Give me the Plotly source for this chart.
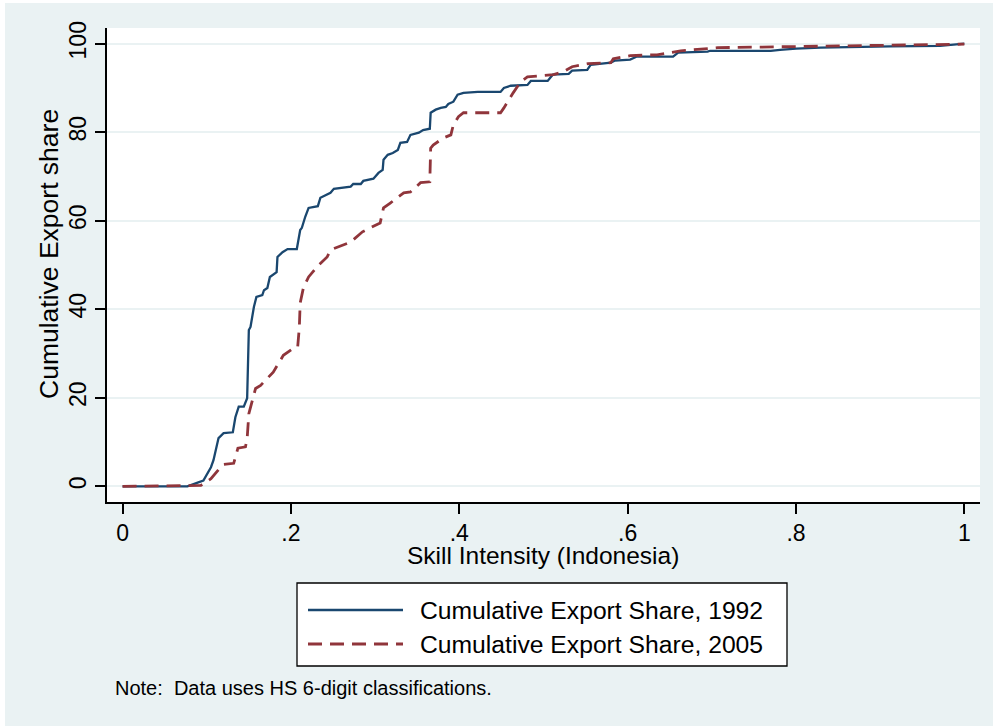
import plotly.graph_objects as go

# Cumulative export share by skill intensity, Indonesia
skill_1992 = [0, 0.077, 0.090, 0.096, 0.105, 0.108, 0.114, 0.120, 0.131, 0.134,
              0.138, 0.144, 0.148, 0.150, 0.152, 0.156, 0.159, 0.166, 0.168, 0.172,
              0.175, 0.183, 0.184, 0.190, 0.196, 0.207, 0.211, 0.213, 0.217, 0.221,
              0.232, 0.235, 0.247, 0.251, 0.271, 0.274, 0.283, 0.286, 0.298, 0.304,
              0.309, 0.310, 0.315, 0.321, 0.327, 0.330, 0.338, 0.342, 0.352, 0.357,
              0.365, 0.366, 0.372, 0.378, 0.384, 0.387, 0.393, 0.398, 0.405, 0.422,
              0.449, 0.453, 0.461, 0.481, 0.485, 0.505, 0.511, 0.530, 0.534, 0.552,
              0.556, 0.580, 0.585, 0.603, 0.611, 0.654, 0.660, 0.695, 0.698, 0.770,
              0.781, 0.800, 0.829, 0.867, 0.912, 0.971, 0.992, 1.0]
share_1992 = [0, 0, 0.9, 1.3, 4.3, 5.9, 10.9, 12, 12.2, 15.6,
              18, 18, 19.9, 35.3, 36, 40.5, 42.8, 43.2, 44.3, 44.8,
              47.3, 48.4, 51.8, 52.9, 53.6, 53.6, 57.9, 58.4, 60.9, 62.9,
              63.3, 65.2, 66.3, 67.2, 67.7, 68.3, 68.3, 69, 69.5, 70.8,
              71.5, 73.8, 74.9, 75.3, 76, 77.6, 77.8, 79.4, 79.9, 80.5,
              80.8, 84.4, 85.1, 85.5, 85.7, 86.4, 86.9, 88.5, 88.9, 89.1,
              89.1, 90, 90.5, 90.7, 91.6, 91.6, 93, 93.2, 93.9, 94.1,
              95.2, 95.7, 96.2, 96.4, 97.1, 97.1, 98, 98.2, 98.4, 98.4,
              98.6, 98.9, 99.1, 99.3, 99.4, 99.5, 99.8, 100]

skill_2005 = [0, 0.093, 0.105, 0.113, 0.119, 0.132, 0.137, 0.146, 0.148, 0.150,
              0.154, 0.158, 0.164, 0.173, 0.179, 0.191, 0.203, 0.208, 0.210, 0.211,
              0.215, 0.221, 0.233, 0.243, 0.247, 0.271, 0.285, 0.306, 0.310, 0.318,
              0.334, 0.342, 0.354, 0.365, 0.366, 0.369, 0.381, 0.390, 0.393, 0.399,
              0.405, 0.449, 0.453, 0.464, 0.473, 0.481, 0.496, 0.512, 0.524, 0.534,
              0.553, 0.580, 0.583, 0.603, 0.635, 0.663, 0.707, 0.785, 0.870, 0.990,
              1.0]
share_2005 = [0, 0.2, 1.7, 3.5, 4.9, 5.2, 8.6, 8.9, 10.8, 16.4,
              19.4, 22.1, 22.8, 24.7, 25.8, 29.6, 31.2, 31.4, 36, 41.4,
              45, 47.3, 50, 51.8, 53.4, 55.2, 57.5, 59.5, 62.9, 64,
              66.3, 66.5, 68.6, 68.8, 76.4, 77.1, 78.7, 79.4, 81.7, 83.5,
              84.4, 84.4, 85.5, 88.9, 91.4, 92.5, 92.8, 93, 93.7, 94.8,
              95.5, 95.7, 96.6, 97.3, 97.5, 98.4, 99.1, 99.3, 99.5, 99.8,
              99.9]

x_ticks = [0, 0.2, 0.4, 0.6, 0.8, 1]
x_tick_labels = ["0", ".2", ".4", ".6", ".8", "1"]
y_ticks = [0, 20, 40, 60, 80, 100]

series_names = ["Cumulative Export Share, 1992", "Cumulative Export Share, 2005"]

NAVY = "#1A476F"
MAROON = "#90353B"
BG = "#EAF2F3"
FONT = "Liberation Sans, Arial, sans-serif"

W, H = 993, 726
L, R, T, B = 107, 13, 28, 224
PW, PH = W - L - R, H - T - B


def px_x(p):
    return (p - L) / PW


def px_y(p):
    return (H - B - p) / PH


fig = go.Figure()
fig.add_trace(go.Scatter(x=skill_1992, y=share_1992, mode="lines",
                         line=dict(color=NAVY, width=2.3),
                         name=series_names[0], showlegend=False))
fig.add_trace(go.Scatter(x=skill_2005, y=share_2005, mode="lines",
                         line=dict(color=MAROON, width=2.8, dash="14px,8px"),
                         name=series_names[1], showlegend=False))

shapes = [
    # thin white border at the top and left edges of the canvas
    dict(type="rect", xref="paper", yref="paper", x0=px_x(-5), x1=px_x(W + 5),
         y0=px_y(3), y1=px_y(-5), fillcolor="white", line=dict(width=0), layer="above"),
    dict(type="rect", xref="paper", yref="paper", x0=px_x(-5), x1=px_x(5),
         y0=px_y(H + 5), y1=px_y(-5), fillcolor="white", line=dict(width=0), layer="above"),
    # legend box
    dict(type="rect", xref="paper", yref="paper", x0=px_x(297), x1=px_x(787),
         y0=px_y(666), y1=px_y(583), fillcolor="white",
         line=dict(color="black", width=1.3), layer="above"),
    dict(type="line", xref="paper", yref="paper", x0=px_x(308), x1=px_x(403),
         y0=px_y(610), y1=px_y(610), line=dict(color=NAVY, width=2.3), layer="above"),
    dict(type="line", xref="paper", yref="paper", x0=px_x(308), x1=px_x(403),
         y0=px_y(644), y1=px_y(644), line=dict(color=MAROON, width=2.8, dash="14px,8px"),
         layer="above"),
]

annotations = [
    dict(text=series_names[0], x=px_x(418), y=px_y(610), xref="paper", yref="paper",
         xanchor="left", yanchor="middle", showarrow=False,
         font=dict(family=FONT, size=24.7, color="black")),
    dict(text=series_names[1], x=px_x(418), y=px_y(644), xref="paper", yref="paper",
         xanchor="left", yanchor="middle", showarrow=False,
         font=dict(family=FONT, size=24.7, color="black")),
    dict(text="Skill Intensity (Indonesia)", x=px_x(543), y=px_y(555), xref="paper",
         yref="paper", xanchor="center", yanchor="middle", showarrow=False,
         font=dict(family=FONT, size=24.5, color="black")),
    dict(text="Cumulative Export share", x=px_x(49), y=px_y(254), xref="paper",
         yref="paper", xanchor="center", yanchor="middle", showarrow=False, textangle=-90,
         font=dict(family=FONT, size=26.5, color="black")),
    dict(text="Note:  Data uses HS 6-digit classifications.", x=px_x(113), y=px_y(688),
         xref="paper", yref="paper", xanchor="left", yanchor="middle", showarrow=False,
         font=dict(family=FONT, size=20, color="black")),
]

fig.update_layout(
    width=W, height=H,
    margin=dict(l=L, r=R, t=T, b=B, pad=0),
    paper_bgcolor=BG, plot_bgcolor="white",
    font=dict(family=FONT, color="black"),
    shapes=shapes, annotations=annotations,
    showlegend=False,
)
fig.update_xaxes(range=[-0.0185, 1.0186], tickvals=x_ticks, ticktext=x_tick_labels,
                 showgrid=False, zeroline=False, showline=True, linecolor="black",
                 linewidth=1.5, ticks="outside", ticklen=10, tickwidth=1.5,
                 tickcolor="black", tickfont=dict(size=23, family=FONT))
fig.update_yaxes(range=[-3.55, 103.55], tickvals=y_ticks, showgrid=True,
                 gridcolor=BG, gridwidth=2, zeroline=False, showline=True,
                 linecolor="black", linewidth=1.5, ticks="outside", ticklen=10,
                 tickwidth=1.5, tickcolor="black", tickangle=-90,
                 tickfont=dict(size=23, family=FONT))

fig.write_html("out.html")
